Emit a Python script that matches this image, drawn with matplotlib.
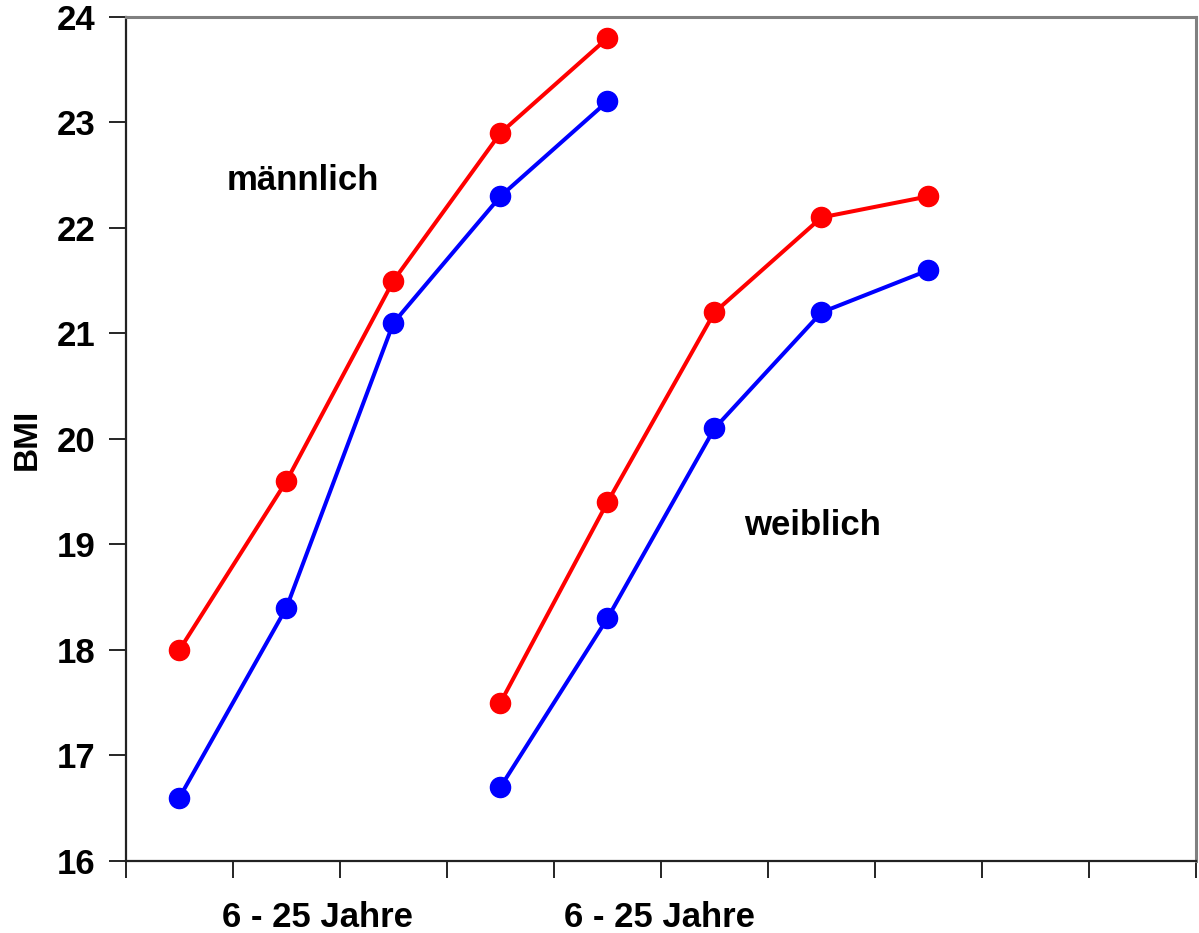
import matplotlib
matplotlib.use("Agg")
import matplotlib.pyplot as plt

plt.rcParams['font.family'] = ['Liberation Sans', 'DejaVu Sans']

# categories 1..10 on the x axis (ticks between categories)
n_cats = 10
male_x = [1, 2, 3, 4, 5]
male_red = [18.0, 19.6, 21.5, 22.9, 23.8]
male_blue = [16.6, 18.4, 21.1, 22.3, 23.2]
female_x = [4, 5, 6, 7, 8]
female_red = [17.5, 19.4, 21.2, 22.1, 22.3]
female_blue = [16.7, 18.3, 20.1, 21.2, 21.6]
yticks = [16, 17, 18, 19, 20, 21, 22, 23, 24]

fig = plt.figure(figsize=(11.99, 9.33), dpi=100)
ax = fig.add_axes([0.105, 0.0772, 0.8925, 0.9046])

style = dict(lw=2.9, marker='o', ms=14.5, clip_on=False)
ax.plot(male_x, male_red, color='#ff0000', **style)
ax.plot(male_x, male_blue, color='#0000ff', **style)
ax.plot(female_x, female_red, color='#ff0000', **style)
ax.plot(female_x, female_blue, color='#0000ff', **style)

ax.set_xlim(0.5, n_cats + 0.5)
ax.set_ylim(16, 24)
ax.set_xticks([i + 0.5 for i in range(n_cats + 1)])
ax.set_xticklabels([])
ax.set_yticks(yticks)
ax.set_yticklabels([str(v) for v in yticks], fontsize=25, fontweight='bold')
ax.tick_params(axis='both', direction='out', length=12, width=1.2, pad=10)

for s in ['top', 'right']:
    ax.spines[s].set_color('#808080')
    ax.spines[s].set_linewidth(2.2)
for s in ['left', 'bottom']:
    ax.spines[s].set_color('#222222')
    ax.spines[s].set_linewidth(1.6)

ax.set_ylabel('BMI', fontsize=24, fontweight='bold', labelpad=10)

ax.text(2.29, -0.067, '6 - 25 Jahre', transform=ax.get_xaxis_transform(),
        ha='center', va='center', fontsize=25, fontweight='bold')
ax.text(5.49, -0.067, '6 - 25 Jahre', transform=ax.get_xaxis_transform(),
        ha='center', va='center', fontsize=25, fontweight='bold')

ax.text(2.15, 22.45, 'männlich', ha='center', va='center', fontsize=25, fontweight='bold')
ax.text(6.92, 19.18, 'weiblich', ha='center', va='center', fontsize=25, fontweight='bold')

fig.savefig('out.png', dpi=100)
